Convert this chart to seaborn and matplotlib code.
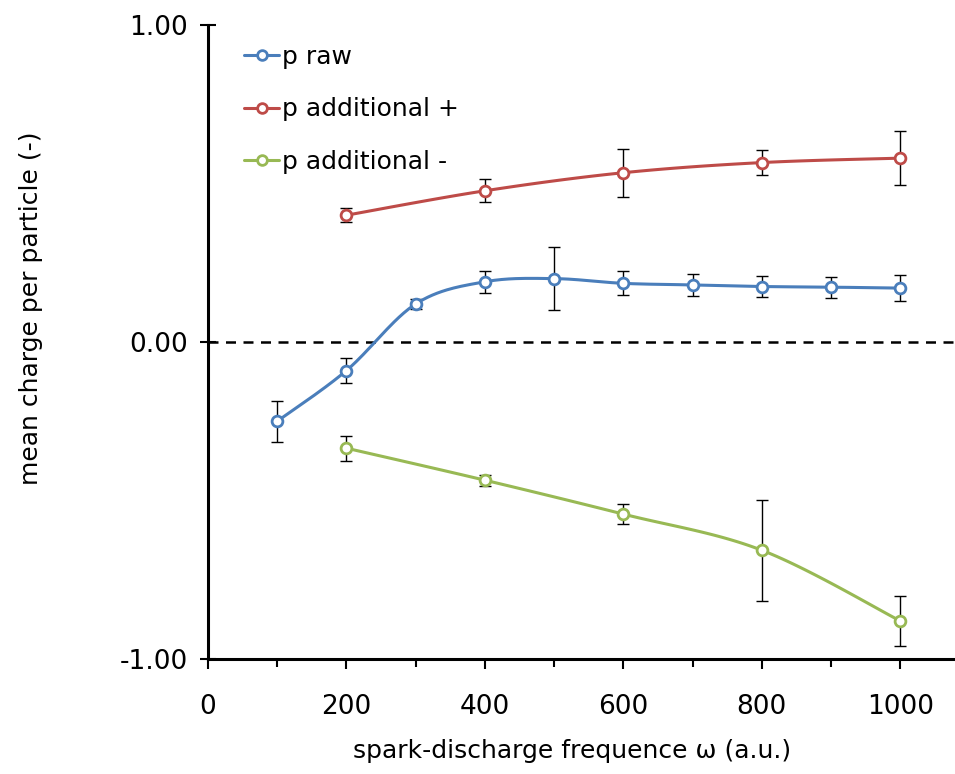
import numpy as np
import pandas as pd
import seaborn as sns
import matplotlib.pyplot as plt
from matplotlib.lines import Line2D

# data
freq_raw = [100, 200, 300, 400, 500, 600, 700, 800, 900, 1000]
p_raw = [-0.25, -0.09, 0.12, 0.19, 0.20, 0.185, 0.18, 0.175, 0.173, 0.17]
err_raw = [0.065, 0.04, 0.015, 0.035, 0.10, 0.038, 0.035, 0.033, 0.033, 0.04]

freq_add = [200, 400, 600, 800, 1000]
p_plus = [0.40, 0.477, 0.534, 0.566, 0.58]
err_plus = [0.022, 0.036, 0.076, 0.04, 0.085]
p_minus = [-0.335, -0.436, -0.543, -0.657, -0.88]
err_minus = [0.04, 0.017, 0.032, 0.16, 0.078]

series = [
    ("p raw", freq_raw, p_raw, err_raw, "#4a7ebb"),
    ("p additional +", freq_add, p_plus, err_plus, "#be4b48"),
    ("p additional -", freq_add, p_minus, err_minus, "#98b954"),
]


def smooth(x, y, n=30):
    # Catmull-Rom style curve through the points, like Excel's smoothed line
    x = np.asarray(x, float)
    y = np.asarray(y, float)
    pts = np.column_stack([x, y])
    p = np.vstack([pts[0], pts, pts[-1]])
    out = []
    t = np.linspace(0, 1, n)[:, None]
    for i in range(1, len(p) - 2):
        p0, p1, p2, p3 = p[i - 1], p[i], p[i + 1], p[i + 2]
        c1 = p1 + (p2 - p0) / 6
        c2 = p2 - (p3 - p1) / 6
        seg = ((1 - t) ** 3) * p1 + 3 * ((1 - t) ** 2) * t * c1 + 3 * (1 - t) * t ** 2 * c2 + t ** 3 * p2
        out.append(seg)
    seg = np.vstack(out)
    return seg[:, 0], seg[:, 1]


sns.set_style("ticks")
plt.rcParams['font.family'] = ['DejaVu Sans']
plt.rcParams['text.color'] = 'black'
plt.rcParams['xtick.color'] = 'black'
plt.rcParams['ytick.color'] = 'black'
plt.rcParams['axes.labelcolor'] = 'black'

fig = plt.figure(figsize=(9.55, 7.74), dpi=100)
ax = fig.add_axes([0.2178, 0.1486, 0.7822, 0.8191])

ax.axhline(0, color="black", lw=1.8, ls=(0, (4, 3)), zorder=1)

handles = []
for name, xs, ys, es, col in series:
    ax.errorbar(xs, ys, yerr=es, fmt="none", ecolor="black", elinewidth=1,
                capsize=4, capthick=1, zorder=2)
    sx, sy = smooth(xs, ys)
    ax.plot(sx, sy, color=col, lw=2.2, zorder=3)
    df = pd.DataFrame({"x": xs, "y": ys})
    sns.scatterplot(data=df, x="x", y="y", ax=ax, s=60, facecolor="white",
                    edgecolor=col, linewidth=2, zorder=4, legend=False)
    handles.append(Line2D([], [], color=col, lw=2.2, marker="o", markersize=7,
                          markerfacecolor="white", markeredgecolor=col,
                          markeredgewidth=2, label=name))

ax.set_xlim(0, 1079)
ax.set_ylim(-1, 1)
ax.set_xticks(range(0, 1001, 200))
ax.set_xticks(range(100, 1001, 200), minor=True)
ax.set_yticks([-1, 0, 1])
ax.set_yticklabels(["-1.00", "0.00", "1.00"])
ax.tick_params(axis="x", which="major", direction="out", length=7, width=1.5, labelsize=19, pad=18)
ax.tick_params(axis="x", which="minor", direction="out", length=6, width=1.5)
ax.tick_params(axis="y", direction="inout", length=11, width=1.5, labelsize=19, pad=9)

for s in ["top", "right"]:
    ax.spines[s].set_visible(False)
for s in ["left", "bottom"]:
    ax.spines[s].set_linewidth(2.2)
    ax.spines[s].set_color("black")

ax.set_xlabel("spark-discharge frequence ω (a.u.)", fontsize=18)
ax.set_ylabel("mean charge per particle (-)", fontsize=18)
ax.xaxis.set_label_coords(0.487, -0.126)
ax.yaxis.set_label_coords(-0.221, 0.554)

ax.legend(handles=handles, loc="upper left", bbox_to_anchor=(0.035, 0.985),
          frameon=False, fontsize=18, handlelength=1.4, handletextpad=0.1,
          labelspacing=1.15, borderaxespad=0)

fig.savefig("out.png", dpi=100)
